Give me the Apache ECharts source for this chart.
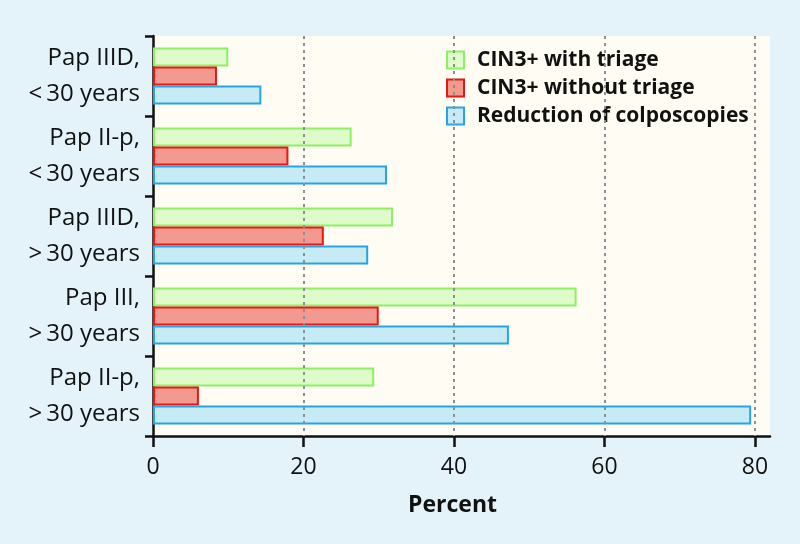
<!DOCTYPE html>
<html>
<head>
<meta charset="utf-8">
<script src="https://cdn.jsdelivr.net/npm/echarts@6/dist/echarts.min.js"></script>
<style>
html,body{margin:0;padding:0;background:#e4f3f9;}
#chart{width:800px;height:544px;}
</style>
</head>
<body>
<div id="chart"></div>
<script>
const categories = [
  'Pap IIID,\n<\u200930 years',
  'Pap II-p,\n<\u200930 years',
  'Pap IIID,\n>\u200930 years',
  'Pap III,\n>\u200930 years',
  'Pap II-p,\n>\u200930 years'
];
const seriesNames = ['CIN3+ with triage', 'CIN3+ without triage', 'Reduction of colposcopies'];
const withTriage = [10.0, 26.4, 31.9, 56.3, 29.4];
const withoutTriage = [8.5, 18.0, 22.7, 30.0, 6.1];
const reduction = [14.4, 31.1, 28.6, 47.3, 79.5];
const gridValues = [20, 40, 60, 80];
const tickValues = [0, 20, 40, 60, 80];

const FONT = '"Open Sans"';
const chart = echarts.init(document.getElementById('chart'));

function barSeries(name, data, fill, border) {
  return {
    name: name,
    type: 'bar',
    data: data,
    barWidth: 19,
    barGap: '0%',
    z: 3,
    itemStyle: { color: fill, borderColor: border, borderWidth: 2 }
  };
}

chart.setOption({
  backgroundColor: '#e4f3f9',
  animation: false,
  grid: {
    left: 153, top: 36, right: 30, bottom: 108,
    show: true, backgroundColor: '#fffdf3', borderWidth: 0
  },
  legend: {
    data: seriesNames,
    orient: 'vertical',
    left: 441,
    top: 41,
    icon: 'rect',
    itemWidth: 17,
    itemHeight: 17,
    itemGap: 0,
    textStyle: {
      fontFamily: FONT, fontWeight: 'bold', fontSize: 21, color: '#111',
      lineHeight: 28, padding: [0, 0, 0, 8]
    }
  },
  xAxis: {
    type: 'value',
    min: 0, max: 82, interval: 20,
    name: 'Percent',
    nameLocation: 'middle',
    nameGap: 58,
    nameTextStyle: { fontFamily: FONT, fontWeight: 'bold', fontSize: 23, color: '#111', padding: [0, 18, 0, 0] },
    axisLine: { show: true, lineStyle: { color: '#111', width: 2.5 } },
    axisTick: { show: true, length: 11, lineStyle: { color: '#111', width: 2.5 }, customValues: tickValues },
    axisLabel: { fontFamily: FONT, fontSize: 23, color: '#111', margin: 20, customValues: tickValues },
    splitLine: { show: false }
  },
  yAxis: {
    type: 'category',
    data: categories,
    inverse: true,
    axisLine: { show: true, lineStyle: { color: '#111', width: 2.5 } },
    axisTick: { show: true, length: 8, lineStyle: { color: '#111', width: 2.5 } },
    axisLabel: { fontFamily: FONT, fontSize: 24, color: '#111', lineHeight: 36, margin: 13, align: 'right' }
  },
  series: [
    {
      name: 'grid',
      type: 'line',
      data: [],
      z: 1,
      silent: true,
      markLine: {
        silent: true,
        symbol: ['none', 'none'],
        label: { show: false },
        lineStyle: { color: '#8a9196', width: 2, type: [3, 4] },
        data: gridValues.map(v => ({ xAxis: v }))
      }
    },
    barSeries(seriesNames[0], withTriage, '#ddfcc9', '#8ef060'),
    barSeries(seriesNames[1], withoutTriage, '#f29a90', '#e8170f'),
    barSeries(seriesNames[2], reduction, '#c6ebf5', '#28a4e6')
  ]
});
</script>
</body>
</html>
